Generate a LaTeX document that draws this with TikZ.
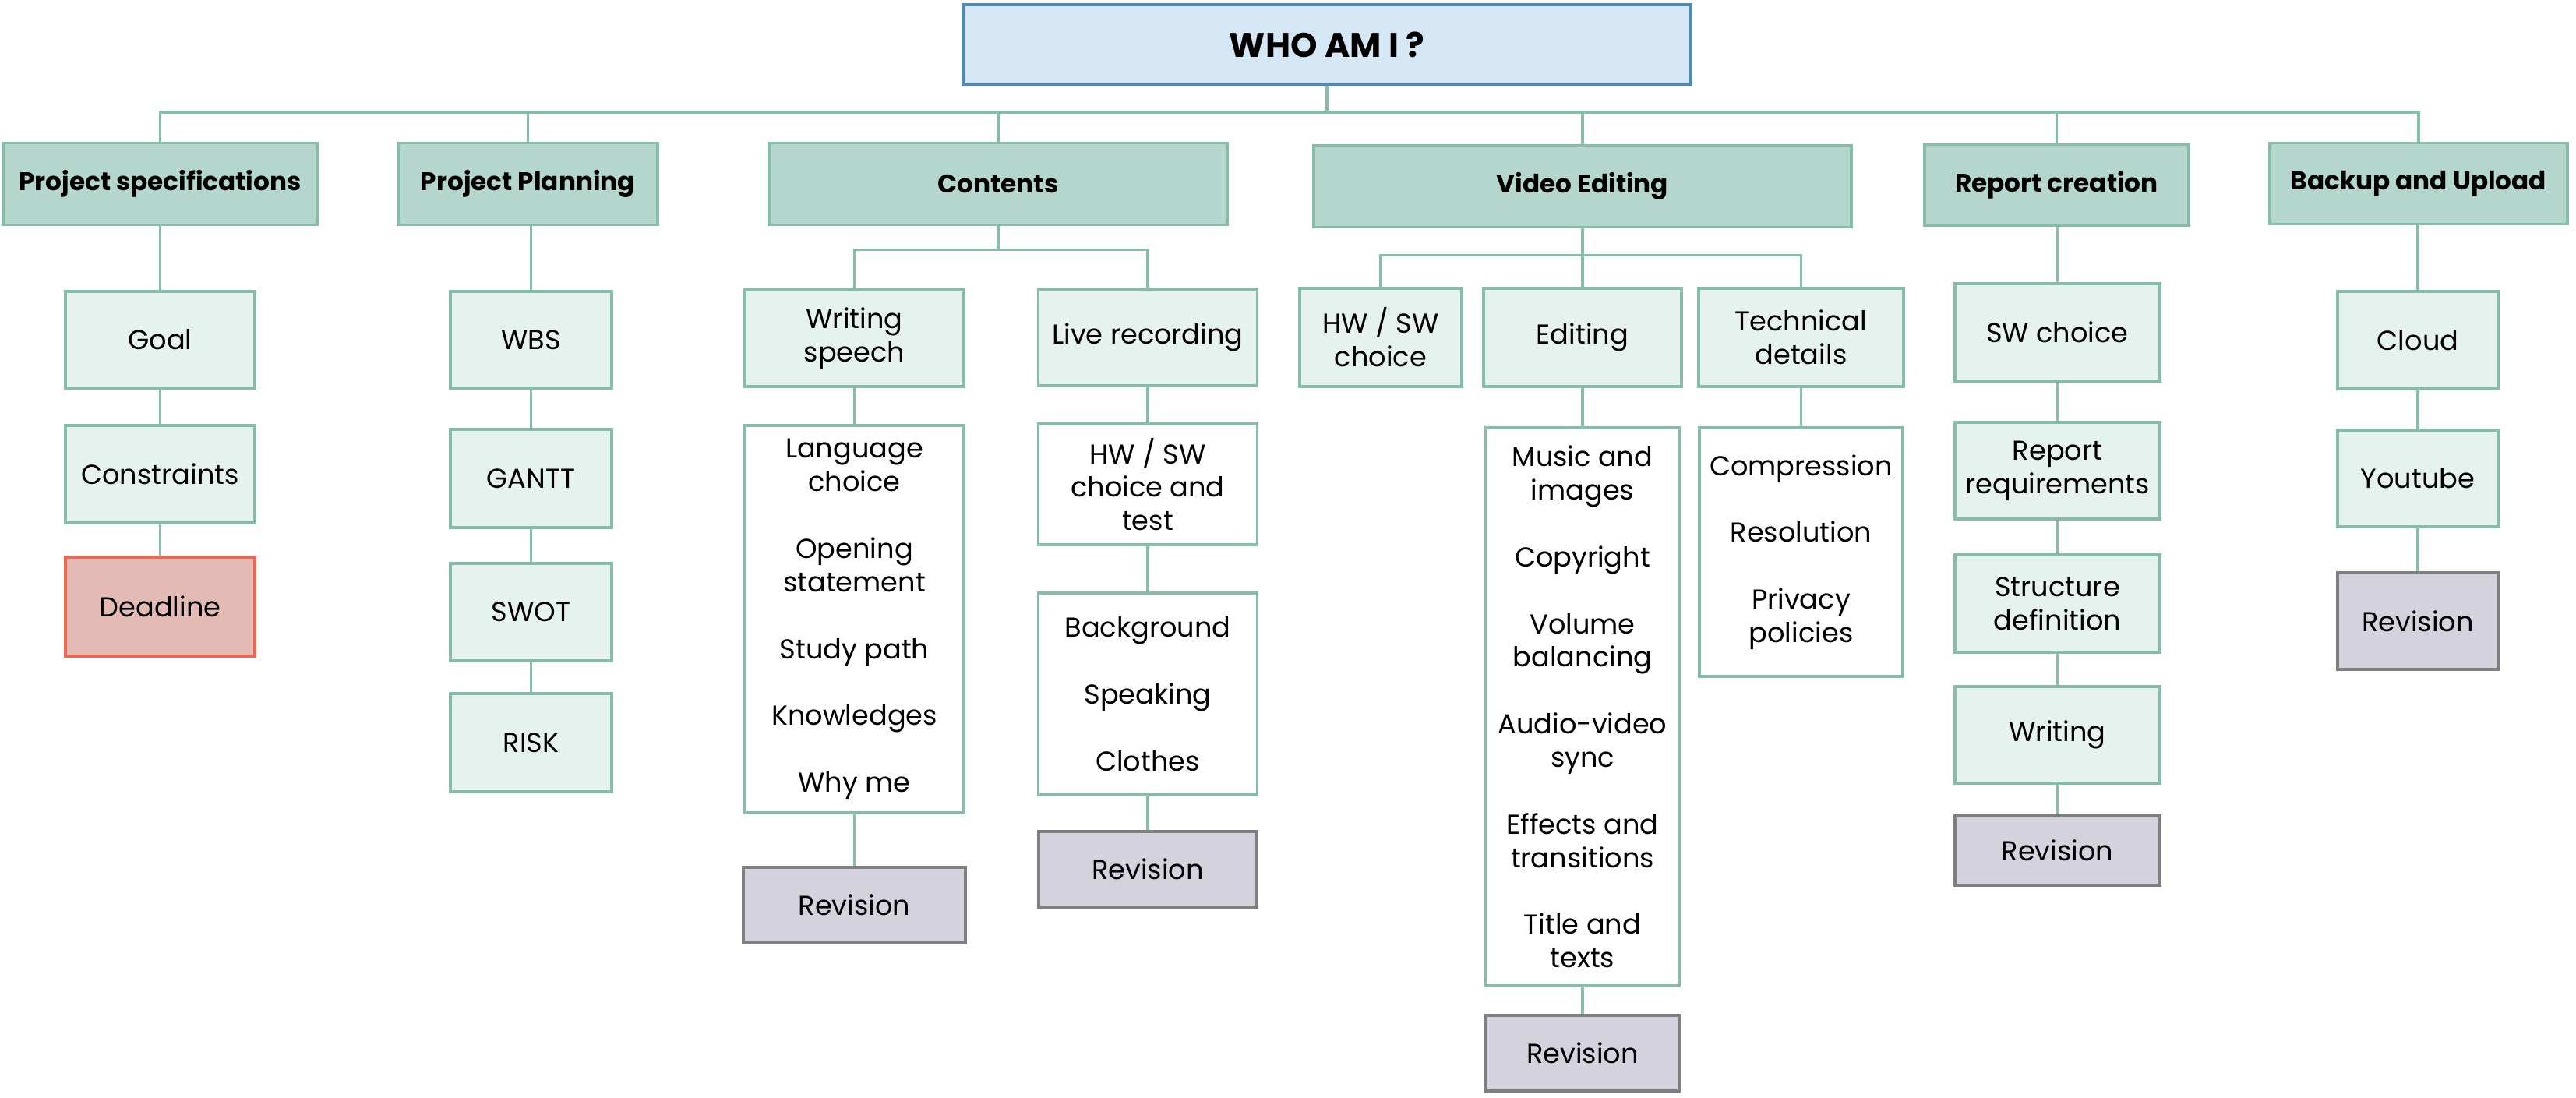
\documentclass[tikz,border=0pt]{standalone}
\usepackage{fontspec}
\setmainfont{Poppins}
\usepackage{xcolor}
\usetikzlibrary{positioning}
\definecolor{wbsline}{HTML}{86BDA9}
\definecolor{wbshead}{HTML}{B5D6CC}
\definecolor{wbssub}{HTML}{E6F2EE}
\definecolor{wbsroot}{HTML}{D5E6F4}
\definecolor{wbsrootline}{HTML}{4D8CB7}
\definecolor{wbsrev}{HTML}{D3D2DD}
\definecolor{wbsrevline}{HTML}{7F7F7F}
\definecolor{wbsdead}{HTML}{E4BBB4}
\definecolor{wbsdeadline}{HTML}{F0654F}
\tikzset{
  box/.style={rectangle, draw=wbsline, line width=1pt, fill=#1, text=black,
              font=\fontsize{10}{12.2}\selectfont, inner sep=2pt, align=center},
  box/.default=wbssub,
  sz/.style 2 args={minimum width=#1mm, minimum height=#2mm},
  head/.style={box=wbshead, font=\fontsize{9.3}{11}\selectfont\bfseries},
  lst/.style={box=white},
  rev/.style={box=wbsrev, draw=wbsrevline},
  link/.style={draw=wbsline, line width=1pt},
}

\begin{document}
\begin{tikzpicture}[x=1mm, y=-1mm]
  \useasboundingbox (0,0) rectangle (330.6,140.8);
  %% Root and top level
  \node[box=wbsroot, draw=wbsrootline, sz={93.4}{10.3},
        font=\fontsize{12.5}{14}\selectfont\bfseries] (root) at (170.3,5.75) {WHO AM I ?};
  \node[head, sz={40.3}{10.5}] (spec) at (20.55,23.6) {Project specifications};
  \node[head, sz={33.3}{10.5}] (plan) at (67.75,23.6) {Project Planning};
  \node[head, sz={58.8}{10.5}] (cont) at (128.1,23.6) {Contents};
  \node[head, sz={69.0}{10.5}] (vide) at (203.1,23.9) {Video Editing};
  \node[head, sz={33.9}{10.4}] (repo) at (263.95,23.75) {Report creation};
  \node[head, sz={38.2}{10.4}] (back) at (310.4,23.55) {Backup and Upload};
  \foreach \h in {spec,plan,cont,vide,repo,back}
    \draw[link] (root.south) -- ++(0,3.3) -| (\h.north);

  %% Project specifications
  \node[box, sz={24.3}{12.4}] (goal) at (20.55,43.6) {Goal};
  \node[box, sz={24.3}{12.5}, below=4.45mm of goal] (cons) {Constraints};
  \node[box=wbsdead, draw=wbsdeadline, sz={24.3}{12.7}, below=4.05mm of cons] (dead) {Deadline};

  %% Project Planning
  \node[box, sz={20.7}{12.4}] (wbs) at (68.15,43.6) {WBS};
  \node[box, sz={20.7}{12.6}, below=4.95mm of wbs] (gantt) {GANTT};
  \node[box, sz={20.7}{12.5}, below=4.25mm of gantt] (swot) {SWOT};
  \node[box, sz={20.7}{12.6}, below=3.85mm of swot] (risk) {RISK};

  %% Contents
  \node[box, sz={28.1}{12.4}] (speech) at (109.65,43.4) {Writing\\speech};
  \node[lst, sz={28.1}{49.7}, below=4.65mm of speech] (speechlist)
    {Language\\choice\\[12.2pt]Opening\\statement\\[12.2pt]Study path\\[12.2pt]Knowledges\\[12.2pt]Why me};
  \node[rev, sz={28.5}{9.7}, below=6.65mm of speechlist] (speechrev) {Revision};
  \node[box, sz={28.1}{12.4}] (live) at (147.3,43.3) {Live recording};
  \node[lst, sz={28.1}{15.5}, below=4.55mm of live] (livehw) {HW / SW\\choice and\\test};
  \node[lst, sz={28.1}{25.9}, below=5.85mm of livehw] (livelist)
    {Background\\[12.2pt]Speaking\\[12.2pt]Clothes};
  \node[rev, sz={28.0}{9.7}, below=4.35mm of livelist] (liverev) {Revision};
  \foreach \c in {speech,live}
    \draw[link] (cont.south) -- ++(0,3.0) -| (\c.north);

  %% Video Editing
  \node[box, sz={20.8}{12.6}] (vhw) at (177.2,43.3) {HW / SW\\choice};
  \node[box, sz={25.4}{12.6}] (edit) at (203.1,43.3) {Editing};
  \node[box, sz={26.3}{12.6}] (tech) at (231.15,43.3) {Technical\\details};
  \node[lst, sz={24.9}{71.6}, below=4.95mm of edit] (editlist)
    {Music and\\images\\[12.2pt]Copyright\\[12.2pt]Volume\\balancing\\[12.2pt]Audio-video\\sync\\[12.2pt]Effects and\\transitions\\[12.2pt]Title and\\texts};
  \node[rev, sz={24.8}{9.7}, below=3.45mm of editlist] (editrev) {Revision};
  \node[lst, sz={26.1}{31.9}, below=4.95mm of tech] (techlist)
    {Compression\\[12.2pt]Resolution\\[12.2pt]Privacy\\policies};
  \foreach \c in {vhw,edit,tech}
    \draw[link] (vide.south) -- ++(0,3.4) -| (\c.north);

  %% Report creation
  \node[box, sz={26.3}{12.5}] (swch) at (264.05,42.65) {SW choice};
  \node[box, sz={26.3}{12.4}, below=4.95mm of swch] (req) {Report\\requirements};
  \node[box, sz={26.3}{12.5}, below=4.25mm of req] (struct) {Structure\\definition};
  \node[box, sz={26.3}{12.4}, below=4.05mm of struct] (writ) {Writing};
  \node[rev, sz={26.3}{8.9}, below=3.85mm of writ] (reporev) {Revision};

  %% Backup and Upload
  \node[box, sz={20.6}{12.5}] (cloud) at (310.3,43.65) {Cloud};
  \node[box, sz={20.6}{12.4}, below=4.95mm of cloud] (yt) {Youtube};
  \node[rev, sz={20.6}{12.4}, below=5.55mm of yt] (backrev) {Revision};

  %% Vertical links
  \foreach \a/\b in {spec/goal,goal/cons,cons/dead,plan/wbs,wbs/gantt,gantt/swot,swot/risk,
                     speech/speechlist,speechlist/speechrev,live/livehw,livehw/livelist,
                     livelist/liverev,edit/editlist,editlist/editrev,tech/techlist,
                     repo/swch,swch/req,req/struct,struct/writ,writ/reporev,
                     back/cloud,cloud/yt,yt/backrev}
    \draw[link] (\b.north |- \a.south) -- (\b.north);
\end{tikzpicture}
\end{document}
